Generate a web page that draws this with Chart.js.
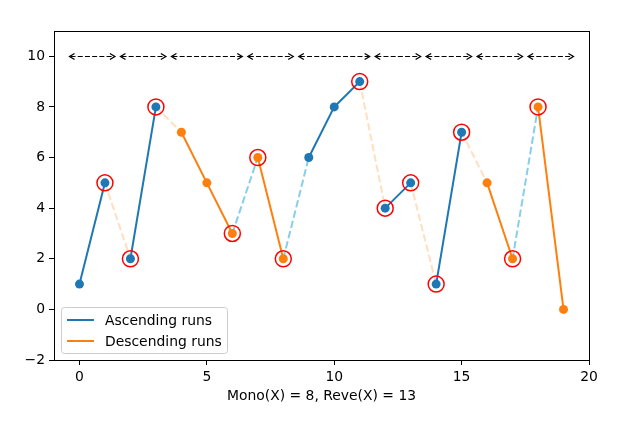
<!DOCTYPE html>
<html>
<head>
<meta charset="utf-8">
<script src="https://cdn.jsdelivr.net/npm/chart.js@4/dist/chart.umd.min.js"></script>
<style>
  html, body { margin: 0; padding: 0; background: #fff; }
  #wrap { width: 625px; height: 425px; }
</style>
</head>
<body>
<div id="wrap"><canvas id="myChart" width="625" height="425"></canvas></div>
<script>
// series values, x = index
const values = [1, 5, 2, 8, 7, 5, 3, 6, 2, 6, 8, 9, 4, 5, 1, 7, 5, 2, 8, 0];
// runs as [first index, last index]
const ascRuns = [[0, 1], [2, 3], [9, 11], [12, 13], [14, 15]];
const descRuns = [[4, 6], [7, 8], [16, 17], [18, 19]];
// points circled in red
const reversals = [1, 2, 3, 6, 7, 8, 11, 12, 13, 14, 15, 17, 18];
// double arrows at the top
const runBounds = [-0.5, 1.5, 3.5, 6.5, 8.5, 11.5, 13.5, 15.5, 17.5, 19.5];
const arrowLevel = 10;
const xTicks = [0, 5, 10, 15, 20];
const yTicks = [-2, 0, 2, 4, 6, 8, 10];
const xLabel = "Mono(X) = 8, Reve(X) = 13";

const FONT = "'DejaVu Sans', sans-serif";
const FS = 13.9;

const runPoints = runs => {
  const pts = [];
  runs.forEach(([a, b]) => {
    for (let i = a; i <= b; i++) pts.push({x: i, y: values[i]});
    pts.push({x: b + 0.5, y: null});
  });
  return pts;
};

// dashed links between consecutive runs
const allRuns = ascRuns.concat(descRuns).sort((p, q) => p[0] - q[0]);
const upLinks = [];
const downLinks = [];
for (let k = 0; k < allRuns.length - 1; k++) {
  const a = allRuns[k][1], b = allRuns[k + 1][0];
  const target = values[b] > values[a] ? upLinks : downLinks;
  target.push({x: a, y: values[a]}, {x: b, y: values[b]}, {x: b + 0.01, y: null});
}

const extras = {
  id: 'extras',
  afterDatasetsDraw(chart) {
    const ctx = chart.ctx;
    const xs = chart.scales.x, ys = chart.scales.y;
    const area = chart.chartArea;
    ctx.save();

    // arrows
    const y = Math.round(ys.getPixelForValue(arrowLevel)) + 0.5;
    const shrink = 2.8, hl = 5, hw = 3;
    ctx.strokeStyle = '#000';
    ctx.lineWidth = 1;
    for (let i = 0; i < runBounds.length - 1; i++) {
      const x1 = xs.getPixelForValue(runBounds[i]) + shrink;
      const x2 = xs.getPixelForValue(runBounds[i + 1]) - shrink;
      ctx.setLineDash([5, 2.2]);
      ctx.beginPath();
      ctx.moveTo(x1 + 1, y);
      ctx.lineTo(x2 - 1, y);
      ctx.stroke();
      ctx.setLineDash([]);
      ctx.lineWidth = 1.3;
      ctx.beginPath();
      ctx.moveTo(x1 + hl, y - hw);
      ctx.lineTo(x1, y);
      ctx.lineTo(x1 + hl, y + hw);
      ctx.moveTo(x2 - hl, y - hw);
      ctx.lineTo(x2, y);
      ctx.lineTo(x2 - hl, y + hw);
      ctx.stroke();
      ctx.lineWidth = 1;
    }

    // legend
    const items = chart.data.datasets.filter(d => d.inLegend);
    const w = 166, h = 46;
    const lx = area.left + 7, ly = area.bottom - 7 - h;
    ctx.beginPath();
    ctx.roundRect(lx + 0.5, ly + 0.5, w, h, 3);
    ctx.fillStyle = 'rgba(255,255,255,0.8)';
    ctx.fill();
    ctx.strokeStyle = '#cccccc';
    ctx.stroke();
    ctx.font = FS + 'px ' + FONT;
    ctx.textBaseline = 'middle';
    items.forEach((d, i) => {
      const cy = ly + 13 + i * 21;
      ctx.strokeStyle = d.borderColor;
      ctx.lineWidth = 2;
      ctx.beginPath();
      ctx.moveTo(lx + 6, cy);
      ctx.lineTo(lx + 33, cy);
      ctx.stroke();
      ctx.fillStyle = '#000';
      ctx.fillText(d.label, lx + 44, cy + 1);
    });

    // frame
    ctx.strokeStyle = '#000';
    ctx.lineWidth = 1;
    ctx.strokeRect(Math.round(area.left) + 0.5, Math.round(area.top) + 0.5,
      Math.round(area.right - area.left), Math.round(area.bottom - area.top));
    ctx.restore();
  }
};

const ctx = document.getElementById('myChart').getContext('2d');
const myChart = new Chart(ctx, {
  type: 'scatter',
  data: {
    datasets: [
      {
        data: reversals.map(i => ({x: i, y: values[i]})),
        showLine: false,
        pointRadius: 8,
        pointBorderWidth: 1.5,
        pointBorderColor: '#ff0000',
        pointBackgroundColor: 'rgba(0,0,0,0)',
        order: 0
      },
      {
        label: 'Ascending runs',
        inLegend: true,
        data: runPoints(ascRuns),
        showLine: true,
        borderColor: '#1f77b4',
        borderWidth: 2,
        pointRadius: 4.5,
        pointBorderWidth: 0,
        pointBackgroundColor: '#1f77b4',
        order: 1
      },
      {
        label: 'Descending runs',
        inLegend: true,
        data: runPoints(descRuns),
        showLine: true,
        borderColor: '#ff7f0e',
        borderWidth: 2,
        pointRadius: 4.5,
        pointBorderWidth: 0,
        pointBackgroundColor: '#ff7f0e',
        order: 1
      },
      {
        data: upLinks,
        showLine: true,
        borderColor: '#87ceeb',
        borderWidth: 2,
        borderDash: [7.4, 3.2],
        pointRadius: 0,
        order: 2
      },
      {
        data: downLinks,
        showLine: true,
        borderColor: '#ffdfc0',
        borderWidth: 2,
        borderDash: [7.4, 3.2],
        pointRadius: 0,
        order: 2
      }
    ]
  },
  options: {
    responsive: false,
    animation: false,
    events: [],
    layout: { padding: { left: 0, top: 31, right: 36, bottom: 0 } },
    plugins: { legend: { display: false }, tooltip: { enabled: false } },
    scales: {
      x: {
        type: 'linear',
        min: -1,
        max: 20,
        afterBuildTicks: s => { s.ticks = xTicks.map(v => ({value: v})); },
        afterFit: s => { s.height = 65; },
        grid: { display: true, drawOnChartArea: false, tickLength: 5, color: '#000', lineWidth: 1 },
        border: { display: false },
        ticks: { color: '#000', padding: 4, maxRotation: 0, font: { family: FONT, size: FS } },
        title: {
          display: true,
          text: xLabel,
          color: '#000',
          font: { family: FONT, size: FS },
          padding: { top: 2, bottom: 20 }
        }
      },
      y: {
        type: 'linear',
        min: -2,
        max: 11,
        afterBuildTicks: s => { s.ticks = yTicks.map(v => ({value: v})); },
        afterFit: s => { s.width = 54; },
        grid: { display: true, drawOnChartArea: false, tickLength: 5, color: '#000', lineWidth: 1 },
        border: { display: false },
        ticks: {
          color: '#000',
          padding: 4,
          font: { family: FONT, size: FS },
          callback: v => String(v).replace('-', '\u2212')
        }
      }
    }
  },
  plugins: [extras]
});
</script>
</body>
</html>
